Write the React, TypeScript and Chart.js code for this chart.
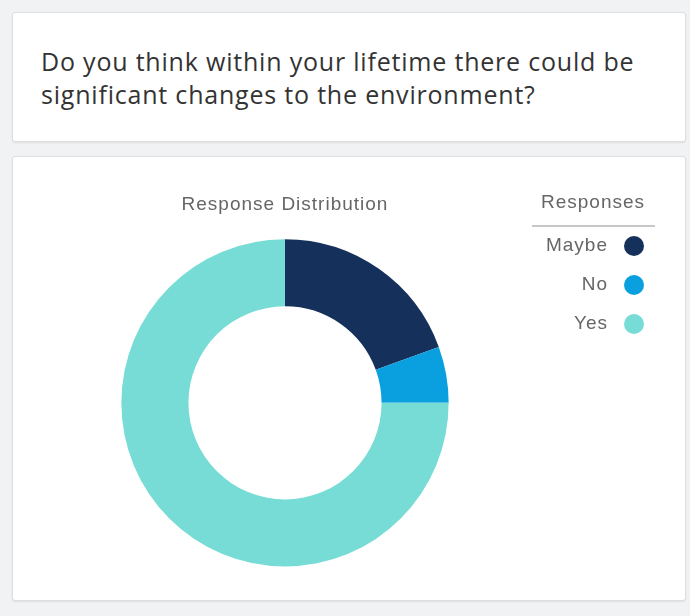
import React, { useEffect, useRef } from "react";
import { Chart, registerables } from "chart.js";

Chart.register(...registerables);

const questionText = "Do you think within your lifetime there could be significant changes to the environment?";
const chartTitle = "Response Distribution";
const legendTitle = "Responses";
const categories = ["Maybe", "No", "Yes"];
const responseCounts = [7, 2, 27];
const sliceColors = ["#15305a", "#0aa0e0", "#78dcd6"];

const textSpacing = {
  id: "textSpacing",
  beforeDraw(chart: any) {
    (chart.ctx as any).letterSpacing = "1px";
  },
};

const customLegend = {
  id: "customLegend",
  afterDraw(chart: any) {
    const ctx = chart.ctx;
    const area = chart.chartArea;
    const cx = area.right + 144;
    ctx.save();
    (ctx as any).letterSpacing = "1px";
    ctx.font = "19px 'Liberation Sans', Arial, sans-serif";
    ctx.fillStyle = "#666";
    ctx.textAlign = "center";
    ctx.textBaseline = "middle";
    ctx.fillText(legendTitle, cx, 46);
    ctx.strokeStyle = "#c8c8c8";
    ctx.lineWidth = 2;
    ctx.beginPath();
    ctx.moveTo(cx - 61, 69);
    ctx.lineTo(cx + 62, 69);
    ctx.stroke();
    const labels = chart.data.labels as string[];
    const colors = chart.data.datasets[0].backgroundColor as string[];
    labels.forEach((lab, i) => {
      const y = 89 + i * 39;
      ctx.textAlign = "right";
      ctx.fillStyle = "#666";
      ctx.fillText(lab, cx + 15, y);
      ctx.beginPath();
      ctx.fillStyle = colors[i];
      ctx.arc(cx + 41, y, 10, 0, Math.PI * 2);
      ctx.fill();
    });
    ctx.restore();
  },
};

function DoughnutChart() {
  const ref = useRef<HTMLCanvasElement | null>(null);
  useEffect(() => {
    if (!ref.current) return;
    const chart = new Chart(ref.current, {
      type: "doughnut",
      data: {
        labels: categories,
        datasets: [
          {
            data: responseCounts,
            backgroundColor: sliceColors,
            borderWidth: 0,
          },
        ],
      },
      options: {
        animation: false,
        responsive: true,
        maintainAspectRatio: false,
        cutout: "59%",
        layout: { padding: { top: 10, left: 108, right: 236, bottom: 33.5 } },
        plugins: {
          legend: { display: false },
          tooltip: { enabled: false },
          title: {
            display: true,
            text: chartTitle,
            color: "#666",
            font: { family: "'Liberation Sans', Arial, sans-serif", size: 19, weight: "normal", lineHeight: 1.2 },
            padding: { top: 26.6, bottom: 22.8 },
          },
        },
      },
      plugins: [textSpacing, customLegend],
    });
    return () => chart.destroy();
  }, []);
  return <canvas ref={ref} />;
}

const cardStyle: React.CSSProperties = {
  position: "absolute",
  boxSizing: "border-box",
  background: "#fff",
  border: "1px solid #dedede",
  borderRadius: 3,
  boxShadow: "0 1px 2px rgba(0,0,0,0.08)",
};

export default function App() {
  return (
    <div style={{ position: "absolute", left: 0, top: 0, width: 690, height: 616, background: "#f1f2f4", overflow: "hidden" }}>
      <div style={{ ...cardStyle, left: 12, top: 12, width: 674, height: 130 }}>
        <div
          style={{
            position: "absolute",
            left: 28,
            top: 32,
            width: 625,
            fontFamily: "'Open Sans', sans-serif",
            fontSize: 25,
            letterSpacing: "0.8px",
            lineHeight: "33px",
            color: "#333",
          }}
        >
          {questionText}
        </div>
      </div>
      <div style={{ ...cardStyle, left: 12, top: 156, width: 674, height: 445 }}>
        <div style={{ position: "absolute", left: 0, top: 0, width: 672, height: 443 }}>
          <DoughnutChart />
        </div>
      </div>
    </div>
  );
}
